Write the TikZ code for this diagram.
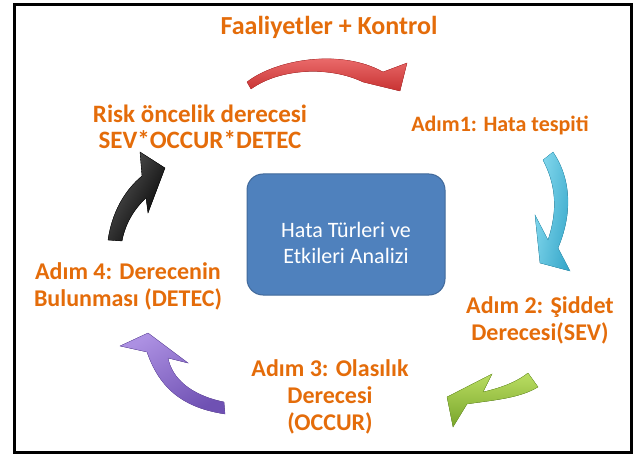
\documentclass[tikz,border=0pt]{standalone}
\usepackage{fontspec}
\setmainfont{Carlito}
\definecolor{stepOrange}{HTML}{E46C0A}
\definecolor{boxBlue}{HTML}{4F81BD}
\definecolor{boxEdge}{HTML}{41699A}
\definecolor{redLight}{HTML}{F47C7C}
\definecolor{redDark}{HTML}{C83232}
\definecolor{cyanLight}{HTML}{8ADCF0}
\definecolor{cyanDark}{HTML}{35A6C9}
\definecolor{greenLight}{HTML}{BADD62}
\definecolor{greenDark}{HTML}{78A52A}
\definecolor{purpleLight}{HTML}{AC90E2}
\definecolor{purpleDark}{HTML}{6F51B3}

\begin{document}
\begin{tikzpicture}[x=1pt,y=-1pt,
  steplabel/.style={text=stepOrange,align=center,inner sep=0pt,
    font=\fontsize{24}{27}\selectfont\bfseries},
  arrowshade/.style n args={3}{left color=#1,right color=#2,shading angle=#3,draw=#2,line width=0.3pt},
  centerbox/.style={fill=boxBlue,draw=boxEdge,line width=1pt,rounded corners=16pt,
    minimum width=198pt,minimum height=121pt}]
\useasboundingbox (0,0) rectangle (634,454);
\draw[line width=3pt] (14.5,5) rectangle (631,452.5); % frame

% center box
\node[centerbox] (fmea) at (346,234.5) {};
\node[text=white,align=center,font=\fontsize{22}{26}\selectfont] (fmeatext)
  at ([yshift=-8pt]fmea.center) {Hata Türleri ve\\Etkileri Analizi};

% step labels
\node[steplabel,font=\fontsize{26}{27}\selectfont\bfseries] (control) at (329,27) {Faaliyetler + Kontrol};
\node[steplabel,font=\fontsize{22}{27}\selectfont\bfseries] (step1) at (500,125) {Adım1: Hata tespiti};
\node[steplabel] (step2) at (540,320) {Adım 2: Şiddet\\Derecesi(SEV)};
\node[steplabel] (step3) at (330,397) {Adım 3: Olasılık\\Derecesi\\(OCCUR)};
\node[steplabel] (step4) at (128,286) {Adım 4: Derecenin\\Bulunması (DETEC)};
\node[steplabel,font=\fontsize{25}{26}\selectfont\bfseries] (risk) at (200,127) {Risk öncelik derecesi\\SEV*OCCUR*DETEC};

% curved block arrows
\fill[arrowshade={redLight}{redDark}{0}] (247,82) .. controls (275,60) and (340,48) .. (383,72)
  -- (407,63) -- (400,91) -- (363,82) .. controls (330,66) and (280,68) .. (251,89) -- cycle;
\fill[arrowshade={cyanLight}{cyanDark}{80}] (553,152) .. controls (572,180) and (572,215) .. (558,248)
  -- (570,271) -- (540,263) -- (535,215) -- (548,240) .. controls (558,210) and (556,185) .. (543,160) -- cycle;
\fill[arrowshade={greenLight}{greenDark}{0}] (528,373) -- (538,387)
  .. controls (520,398) and (495,400) .. (467,404) -- (453,427) -- (447,397) -- (492,374)
  -- (483,392) .. controls (500,388) and (515,383) .. (528,373) -- cycle;
\fill[arrowshade={purpleLight}{purpleDark}{30}] (148,333) -- (188,363) -- (168,358)
  .. controls (172,378) and (190,395) .. (224,402) -- (225,414)
  .. controls (185,408) and (160,390) .. (147,352) -- (120,346) -- cycle;
\fill[arrowshade={black!65}{black}{60}] (108,240) .. controls (112,212) and (125,190) .. (142,176)
  -- (140,152) -- (165,168) -- (148,213) -- (146,198)
  .. controls (133,210) and (125,225) .. (122,241) -- cycle;
\end{tikzpicture}
\end{document}
